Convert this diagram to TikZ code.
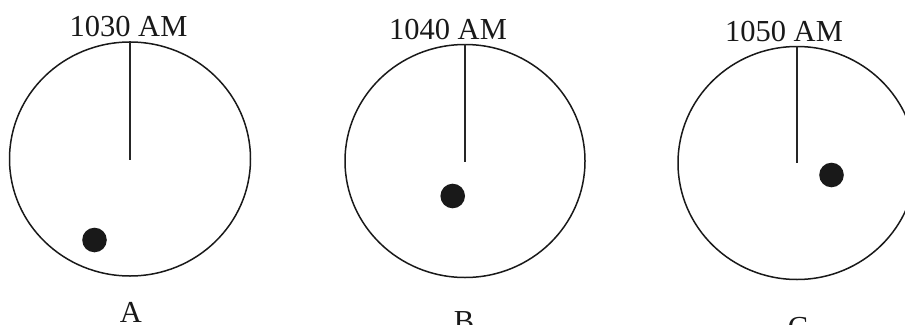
\documentclass[tikz,border=0pt]{standalone}
\usepackage{fontspec}
\setmainfont{Liberation Serif}
\usetikzlibrary{shapes.geometric}
\begin{document}
\begin{tikzpicture}[x=1pt,y=-1pt,
  dial/.style={draw=black!90,line width=1.5pt,ellipse,inner sep=0pt},
  hand/.style={draw=black!85,line width=1.2pt},
  dot/.style={fill=black!90},
  lbl/.style={font=\fontsize{30.5}{33}\selectfont,anchor=base,inner sep=0pt,text=black!90}]
\useasboundingbox (0,0) rectangle (905,324);
% A
\node[dial,minimum width=241pt,minimum height=234pt] (dA) at (130,159) {};
\coordinate (hA) at (130,160);
\draw[hand] (dA.north) -- (hA);
\fill[dot] (94.5,240) circle (12.3pt);
\node[lbl] (tA) at (128.5,36.5) {1030 AM};
\node[lbl] (lA) at (131,322) {A};
% B
\node[dial,minimum width=240pt,minimum height=233pt] (dB) at (465,161) {};
\coordinate (hB) at (465,162);
\draw[hand] (dB.north) -- (hB);
\fill[dot] (452.7,196) circle (12.3pt);
\node[lbl] (tB) at (448,39) {1040 AM};
\node[lbl] (lB) at (464,331) {B};
% C
\node[dial,minimum width=238pt,minimum height=233pt] (dC) at (797,163) {};
\coordinate (hC) at (797,163);
\draw[hand] (dC.north) -- (hC);
\fill[dot] (831.5,175) circle (12.3pt);
\node[lbl] (tC) at (784,41) {1050 AM};
\node[lbl] (lC) at (798,337) {C};
\end{tikzpicture}
\end{document}
